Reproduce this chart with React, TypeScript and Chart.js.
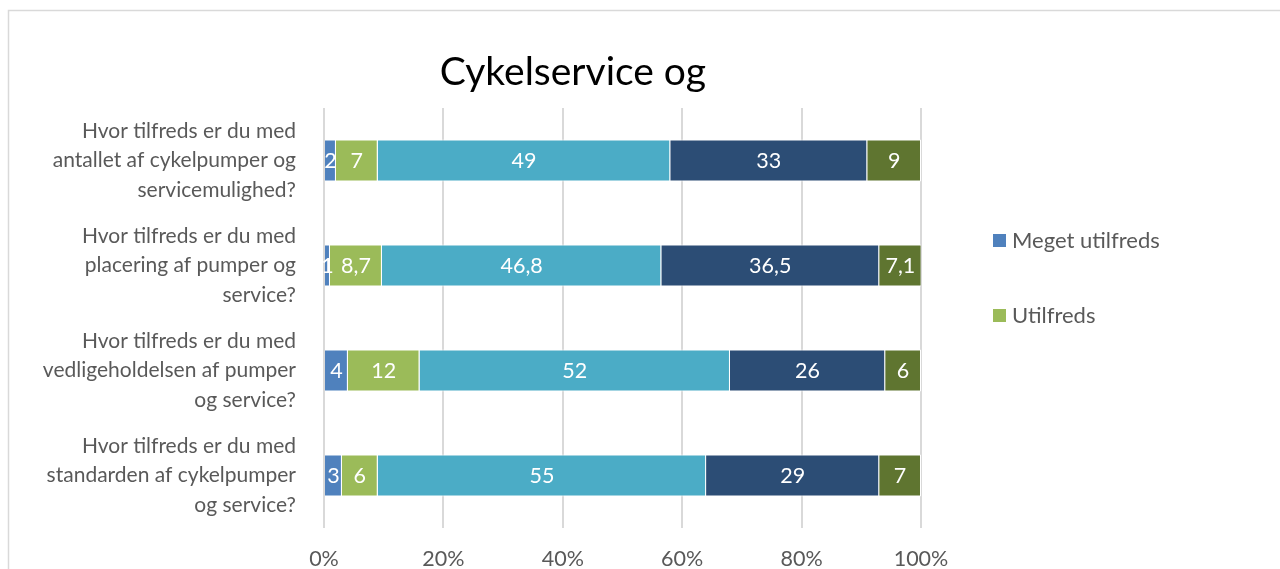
import React, { useEffect, useRef } from "react";
import { Chart, registerables } from "chart.js";

Chart.register(...registerables);

const categories: string[][] = [
  ["Hvor tilfreds er du med", "antallet af cykelpumper og", "servicemulighed?"],
  ["Hvor tilfreds er du med", "placering af pumper og", "service?"],
  ["Hvor tilfreds er du med", "vedligeholdelsen af pumper", "og service?"],
  ["Hvor tilfreds er du med", "standarden af cykelpumper", "og service?"],
];

const seriesNames = ["Meget utilfreds", "Utilfreds", "Hverken eller", "Tilfreds", "Meget tilfreds"];
const megetUtilfreds = [2, 1, 4, 3];
const utilfreds = [7, 8.7, 12, 6];
const hverkenEller = [49, 46.8, 52, 55];
const tilfreds = [33, 36.5, 26, 29];
const megetTilfreds = [9, 7.1, 6, 7];
const seriesColors = ["#4F81BD", "#9BBB59", "#4BACC6", "#2C4D75", "#5F7530"];
const xTickLabels = ["0%", "20%", "40%", "60%", "80%", "100%"];
const titleText = "Cykelservice og";

const FONT = "Lato, 'Open Sans', sans-serif";

const decorPlugin = {
  id: "decor",
  beforeDraw(chart: any) {
    const ctx = chart.ctx;
    ctx.save();
    ctx.fillStyle = "#ffffff";
    ctx.fillRect(0, 0, chart.width, chart.height);
    ctx.strokeStyle = "#d9d9d9";
    ctx.lineWidth = 1.5;
    ctx.strokeRect(8.5, 10.5, chart.width + 20, chart.height + 20);
    ctx.fillStyle = "#000000";
    ctx.font = `39px ${FONT}`;
    ctx.textAlign = "center";
    ctx.textBaseline = "middle";
    ctx.fillText(titleText, 573, 72);
    ctx.restore();
  },
  afterDatasetsDraw(chart: any) {
    const ctx = chart.ctx;
    ctx.save();
    ctx.font = `21.5px ${FONT}`;
    ctx.fillStyle = "#ffffff";
    ctx.textAlign = "center";
    ctx.textBaseline = "middle";
    chart.data.datasets.forEach((ds: any, di: number) => {
      const meta = chart.getDatasetMeta(di);
      meta.data.forEach((bar: any, i: number) => {
        const v = ds.data[i];
        const cx = (bar.x + bar.base) / 2;
        ctx.fillText(String(v).replace(".", ","), cx, bar.y + 1);
      });
    });
    // legend (first two entries visible)
    ctx.font = `22px ${FONT}`;
    const items = [0, 1];
    items.forEach((di, k) => {
      const ds = chart.data.datasets[di];
      const y = 241 + k * 75;
      ctx.fillStyle = ds.backgroundColor;
      ctx.fillRect(993, y - 7, 13, 13);
      ctx.fillStyle = "#595959";
      ctx.textAlign = "left";
      ctx.fillText(ds.label, 1012, y);
    });
    ctx.restore();
  },
};

export default function App() {
  const ref = useRef<HTMLCanvasElement>(null);
  useEffect(() => {
    document.body.style.margin = "0";
    const data = [megetUtilfreds, utilfreds, hverkenEller, tilfreds, megetTilfreds];
    const chart = new Chart(ref.current!, {
      type: "bar",
      data: {
        labels: categories,
        datasets: data.map((d, i) => ({
          label: seriesNames[i],
          data: d,
          backgroundColor: seriesColors[i],
          borderColor: "#ffffff",
          borderWidth: 1,
          categoryPercentage: 1,
          barPercentage: 0.4,
        })),
      },
      options: {
        indexAxis: "y",
        responsive: false,
        animation: false,
        layout: { padding: { left: 0, right: 359, top: 108, bottom: 0 } },
        plugins: { legend: { display: false }, title: { display: false }, tooltip: { enabled: false } },
        scales: {
          x: {
            stacked: true,
            min: 0,
            max: 100,
            border: { display: false },
            grid: { color: "#d9d9d9", lineWidth: 2, drawTicks: false },
            ticks: {
              stepSize: 20,
              color: "#595959",
              font: { family: FONT, size: 21.5 },
              padding: 18,
              callback: (_v: any, i: number) => xTickLabels[i],
            },
            afterFit: (s: any) => { s.height = 41; s.paddingLeft = 0; s.paddingRight = 0; },
          },
          y: {
            stacked: true,
            border: { display: false },
            grid: { display: false, drawTicks: false },
            ticks: {
              color: "#595959",
              font: { family: FONT, size: 21, lineHeight: 1.4 },
              padding: 28,
            },
            afterFit: (s: any) => { s.width = 324; s.paddingTop = 0; s.paddingBottom = 0; },
          },
        },
      },
      plugins: [decorPlugin],
    });
    return () => chart.destroy();
  }, []);
  return (
    <div style={{ position: "fixed", left: 0, top: 0, width: 1280, height: 569 }}>
      <canvas ref={ref} width={1280} height={569} />
    </div>
  );
}
